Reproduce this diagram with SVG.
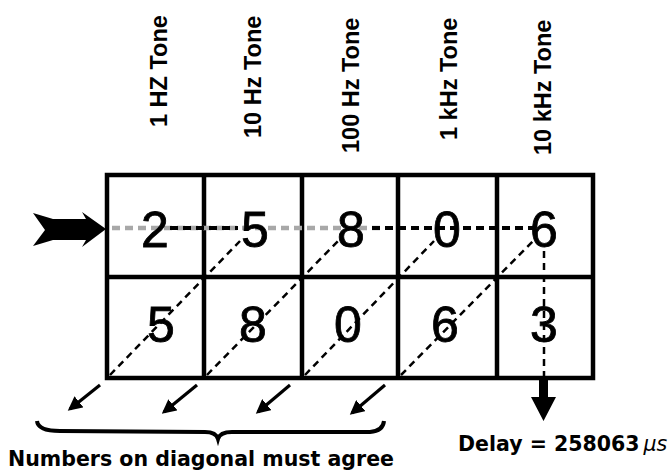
<svg xmlns="http://www.w3.org/2000/svg" width="670" height="470" viewBox="0 0 670 470">
<style>
.lbl{font-family:"Liberation Sans",Arial,sans-serif;font-weight:bold;font-size:23.5px;fill:#000}
.dig{font-family:"Liberation Sans",Arial,sans-serif;font-size:50px;fill:#000;stroke:#000;stroke-width:0.8;text-anchor:middle}
.grid{fill:none;stroke:#000;stroke-width:4.5}
.dash{fill:none;stroke:#000;stroke-width:2.5;stroke-dasharray:7 5}
.dashg{fill:none;stroke:#a8a8a8;stroke-width:4.5;stroke-dasharray:8 5}
.dashb{fill:none;stroke:#000;stroke-width:4;stroke-dasharray:8 5}
.arr{fill:none;stroke:#000;stroke-width:3.2}
.note{font-family:"DejaVu Sans",Verdana,sans-serif;font-weight:bold;font-size:20.5px;fill:#000}
</style>
<defs>
<marker id="ah" viewBox="0 0 10 10" refX="8" refY="5" markerWidth="4.5" markerHeight="4.5" orient="auto">
<path d="M0,0 L10,5 L0,10 z" fill="#000"/>
</marker>
</defs>

<g id="labels">
<text class="lbl" transform="translate(167,127) rotate(-90)">1 HZ Tone</text>
<text class="lbl" transform="translate(261,138) rotate(-90)">10 Hz Tone</text>
<text class="lbl" transform="translate(359,153) rotate(-90)">100 Hz Tone</text>
<text class="lbl" transform="translate(457,140) rotate(-90)">1 kHz Tone</text>
<text class="lbl" transform="translate(551,155) rotate(-90)">10 kHz Tone</text>
</g>

<g id="table">
<rect class="grid" x="107" y="175" width="486" height="203"/>
<line class="grid" x1="107" y1="277" x2="593" y2="277"/>
<line class="grid" x1="204" y1="175" x2="204" y2="378"/>
<line class="grid" x1="302" y1="175" x2="302" y2="378"/>
<line class="grid" x1="398" y1="175" x2="398" y2="378"/>
<line class="grid" x1="497" y1="175" x2="497" y2="378"/>
</g>

<g id="connectors">
<line class="dashg" x1="112" y1="228" x2="380" y2="228"/>
<line class="dashb" x1="170" y1="228" x2="238" y2="228"/>
<line class="dashb" x1="372" y1="228" x2="536" y2="228"/>
<line class="dash" x1="110" y1="375" x2="240" y2="241"/>
<line class="dash" x1="207" y1="375" x2="338" y2="241"/>
<line class="dash" x1="305" y1="375" x2="434" y2="241"/>
<line class="dash" x1="401" y1="375" x2="533" y2="241"/>
<line class="dash" x1="544" y1="251" x2="544" y2="378"/>
<path d="M539,378 L548,378 L548,397 L556,397 L543.5,421 L531,397 L539,397 z" fill="#000"/>
<path d="M33,213 L53,219 L86,219 L82,212 L106,229 L82,247 L86,240 L53,240 L33,246 L45,230 z" fill="#000"/>
<line class="arr" x1="100" y1="385" x2="70" y2="409" marker-end="url(#ah)"/>
<line class="arr" x1="197" y1="385" x2="164" y2="412" marker-end="url(#ah)"/>
<line class="arr" x1="290" y1="385" x2="258" y2="412" marker-end="url(#ah)"/>
<line class="arr" x1="385" y1="385" x2="352" y2="413" marker-end="url(#ah)"/>
<path d="M37,421 Q38,431 60,431 L205,432 Q216,432 218,439 Q220,432 232,432 L370,432 Q383,431 384,421" fill="none" stroke="#000" stroke-width="4"/>
</g>

<g id="digits">
<text class="dig" x="155" y="247">2</text>
<text class="dig" x="255" y="247">5</text>
<text class="dig" x="351" y="247">8</text>
<text class="dig" x="447" y="247">0</text>
<text class="dig" x="544" y="247">6</text>
<text class="dig" x="161" y="342">5</text>
<text class="dig" x="253" y="342">8</text>
<text class="dig" x="348" y="342">0</text>
<text class="dig" x="445" y="342">6</text>
<text class="dig" x="544" y="342">3</text>
</g>

<g id="notes">
<text class="note" x="8" y="466" textLength="386" lengthAdjust="spacingAndGlyphs">Numbers on diagonal must agree</text>
<text class="note" x="458" y="451" font-size="20">Delay = 258063<tspan font-weight="normal" font-style="italic" dx="4">μs</tspan></text>
</g>
</svg>
